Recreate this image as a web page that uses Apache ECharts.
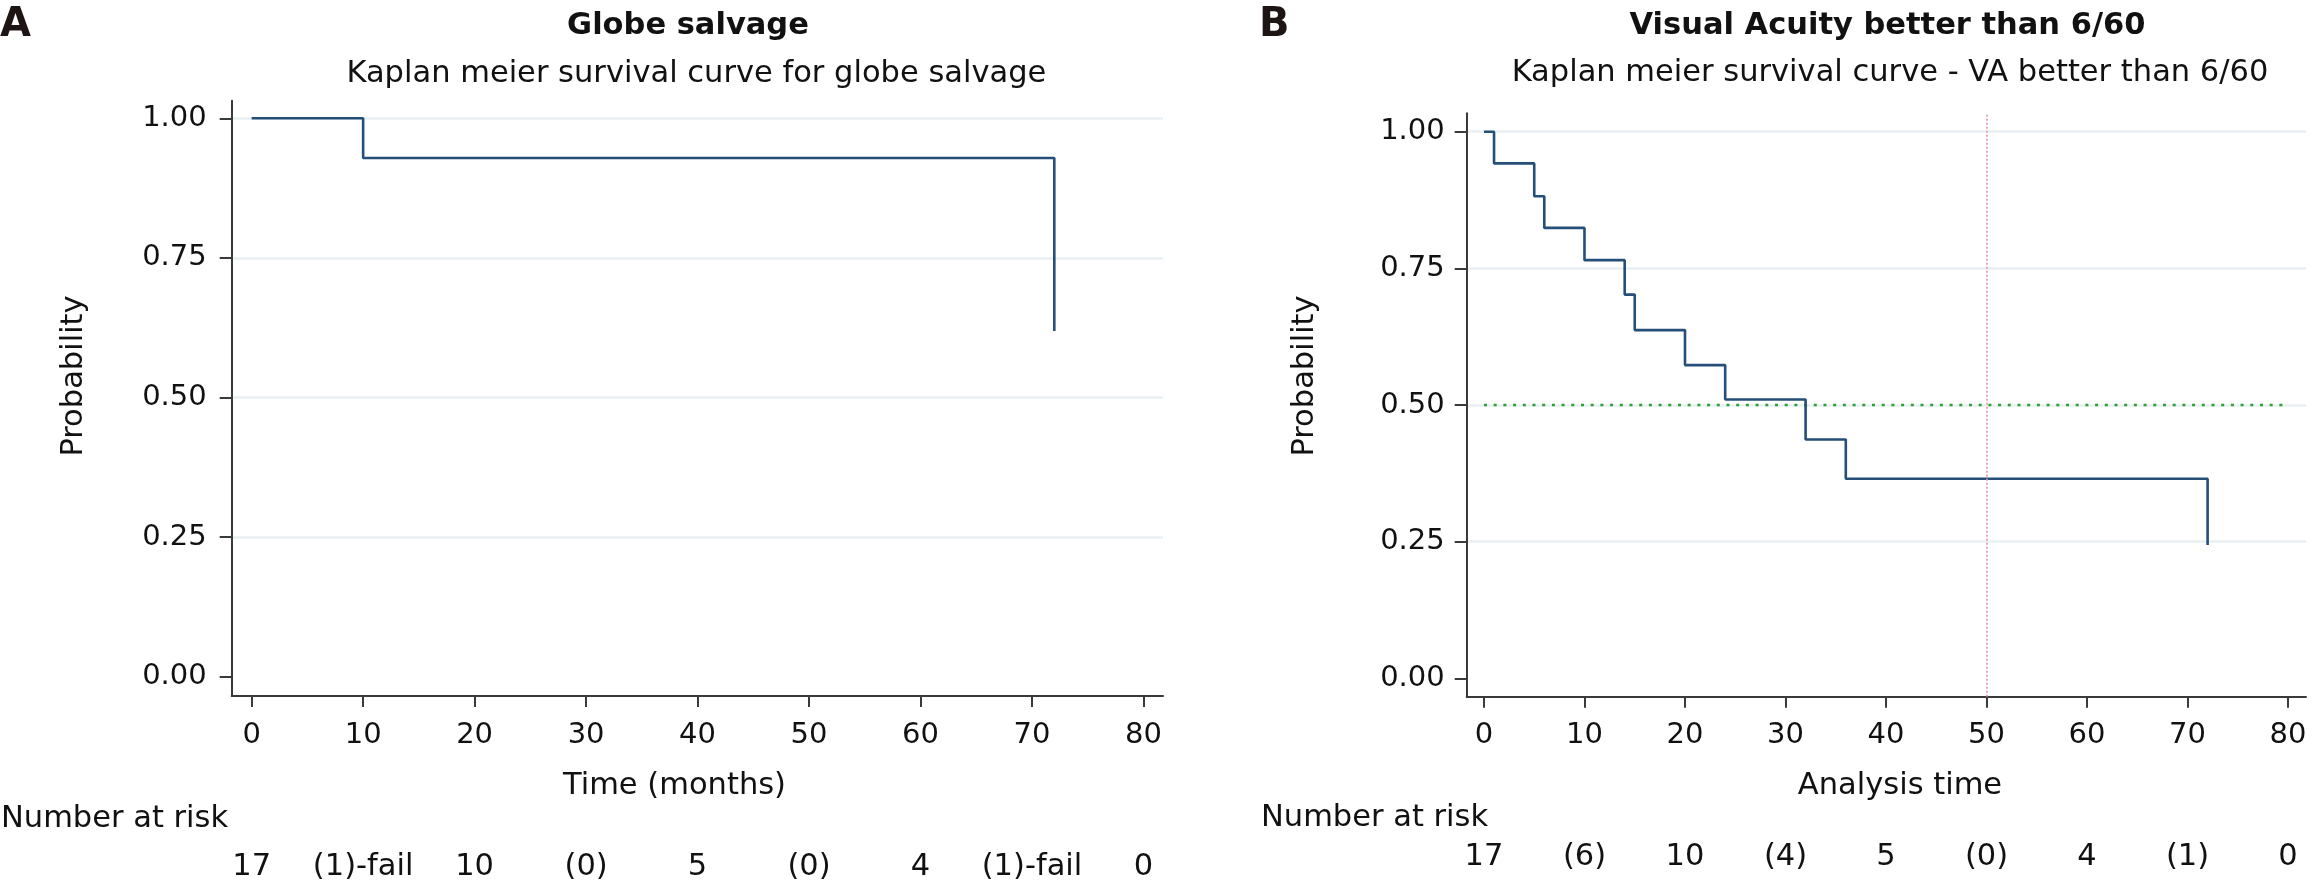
<!DOCTYPE html>
<html><head><meta charset="utf-8">
<script src="https://cdn.jsdelivr.net/npm/echarts@6/dist/echarts.min.js"></script>
<style>html,body{margin:0;padding:0;background:#fff}#c{width:2314px;height:890px}</style>
</head><body><div id="c"></div>
<script>
// ---------- data ----------
const tickTimes = [0, 10, 20, 30, 40, 50, 60, 70, 80];
const probTicks = [0, 0.25, 0.5, 0.75, 1];
const gridProbs = [0.25, 0.5, 0.75, 1];
const globeTimes = [0, 10, 72];
const globeSurv = [1, 0.929, 0.619];
const vaTimes = [0, 1, 5, 6, 10, 14, 15, 20, 24, 32, 36, 72];
const vaSurv = [1, 0.942, 0.882, 0.824, 0.765, 0.702, 0.637, 0.573, 0.510, 0.437, 0.365, 0.244];
const riskA = ['17', '(1)-fail', '10', '(0)', '5', '(0)', '4', '(1)-fail', '0'];
const riskB = ['17', '(6)', '10', '(4)', '5', '(0)', '4', '(1)', '0'];
const medianProb = 0.5;
const refTime = 50;

// ---------- style ----------
const FONT = 'DejaVu Sans';
const AX = '#3a3a3a';
const CURVE = '#254f78';
const TXT = '#111';

const chart = echarts.init(document.getElementById('c'), null, {renderer: 'canvas'});

function xAxisCfg(gi, min, max) {
  return {
    gridIndex: gi, type: 'value', min: min, max: max,
    axisLine: {show: true, onZero: false, lineStyle: {color: AX, width: 2}},
    axisTick: {show: true, customValues: tickTimes, length: 11, lineStyle: {color: AX, width: 2}},
    axisLabel: {customValues: tickTimes, fontFamily: FONT, fontSize: 29, color: TXT, margin: 39, verticalAlign: 'middle'},
    splitLine: {show: false}
  };
}
function yAxisCfg(gi, min, max, margin) {
  return {
    gridIndex: gi, type: 'value', min: min, max: max, position: 'left',
    axisLine: {show: true, onZero: false, lineStyle: {color: AX, width: 2}},
    axisTick: {show: true, customValues: probTicks, length: 12, lineStyle: {color: AX, width: 2}},
    axisLabel: {customValues: probTicks, fontFamily: FONT, fontSize: 29, color: TXT, margin: margin,
      formatter: v => Number(v).toFixed(2)},
    splitLine: {show: false}
  };
}
function yGridCfg(gi, min, max) {
  return {
    gridIndex: gi, type: 'value', min: min, max: max, position: 'left',
    axisLine: {show: false}, axisLabel: {show: false},
    axisTick: {show: false, customValues: gridProbs},
    splitLine: {show: true, lineStyle: {color: '#e8f0f3', width: 2.5}}
  };
}
const pairs = (xs, ys) => xs.map((x, i) => [x, ys[i]]);

chart.setOption({
  animation: false,
  backgroundColor: '#fff',
  grid: [
    {left: 231.7, top: 100.7, width: 931.3, height: 595.3, containLabel: false},
    {left: 1466.7, top: 113.3, width: 839.3, height: 583.4, containLabel: false}
  ],
  xAxis: [xAxisCfg(0, -1.79, 81.75), xAxisCfg(1, -1.72, 81.79)],
  yAxis: [
    yGridCfg(0, -0.0346, 1.0315), yAxisCfg(0, -0.0346, 1.0315, 25),
    yGridCfg(1, -0.0337, 1.0337), yAxisCfg(1, -0.0337, 1.0337, 22)
  ],
  series: [
    {type: 'line', xAxisIndex: 0, yAxisIndex: 1, data: pairs(globeTimes, globeSurv), step: 'end',
      symbol: 'none', lineStyle: {color: CURVE, width: 2.6}, z: 3},
    {type: 'line', xAxisIndex: 1, yAxisIndex: 3,
      data: [[tickTimes[0], medianProb], [tickTimes[tickTimes.length - 1], medianProb]],
      symbol: 'none', lineStyle: {color: '#2f9e35', width: 2.6, type: [3, 6.7]}, z: 2,
      markLine: {silent: true, symbol: 'none', label: {show: false},
        lineStyle: {color: '#f08ea2', width: 1.6, type: [2, 2]},
        data: [{xAxis: refTime}]}},
    {type: 'line', xAxisIndex: 1, yAxisIndex: 3, data: pairs(vaTimes, vaSurv), step: 'end',
      symbol: 'none', lineStyle: {color: CURVE, width: 2.6}, z: 3}
  ]
});

function txt(x, y, text, o) {
  return {type: 'text', x: x, y: y, rotation: (o && o.rot) || 0, silent: true,
    style: {text: text, fontFamily: (o && o.ff) || FONT, fontSize: (o && o.fs) || 30.5,
      fontWeight: (o && o.fw) || 'normal', fill: (o && o.fill) || TXT,
      align: (o && o.align) || 'center', verticalAlign: 'middle'}};
}
const g = [];
g.push(txt(0, 26, 'A', {fs: 40, fw: 'bold', align: 'left', fill: '#1c1513'}));
g.push(txt(1259, 26, 'B', {fs: 40, fw: 'bold', align: 'left', fill: '#1c1513'}));
g.push(txt(688, 26, 'Globe salvage', {fw: 'bold'}));
g.push(txt(1887.5, 26, 'Visual Acuity better than 6/60', {fw: 'bold'}));
g.push(txt(696.4, 73.7, 'Kaplan meier survival curve for globe salvage'));
g.push(txt(1890, 73, 'Kaplan meier survival curve - VA better than 6/60'));
g.push(txt(74, 376, 'Probability', {rot: Math.PI / 2}));
g.push(txt(1305, 376, 'Probability', {rot: Math.PI / 2}));
g.push(txt(674.5, 786, 'Time (months)'));
g.push(txt(1900, 786, 'Analysis time'));
g.push(txt(1, 818.6, 'Number at risk', {align: 'left'}));
g.push(txt(1261, 818, 'Number at risk', {align: 'left'}));
tickTimes.forEach((t, i) => {
  const xa = chart.convertToPixel({xAxisIndex: 0}, t);
  const xb = chart.convertToPixel({xAxisIndex: 1}, t);
  g.push(txt(xa, 866.7, riskA[i]));
  g.push(txt(xb, 857, riskB[i]));
});
chart.setOption({graphic: g});
</script></body></html>
